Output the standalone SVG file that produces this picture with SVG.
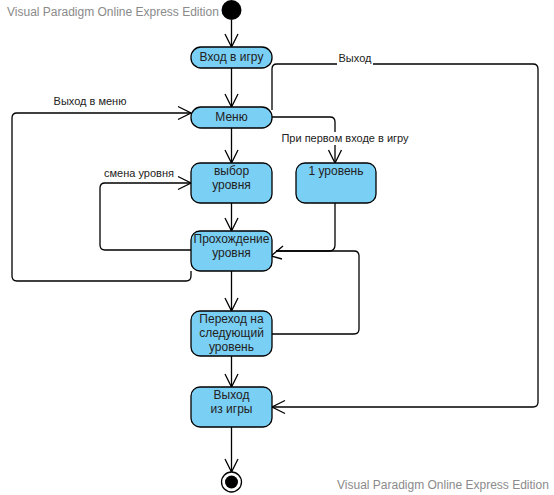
<svg xmlns="http://www.w3.org/2000/svg" width="554" height="495" viewBox="0 0 554 495">
<defs>
<style>
.box{fill:#7ACFF5;stroke:#000;stroke-width:1.3}
.t{font-family:"Liberation Sans",Arial,sans-serif;font-size:12px;fill:#222;text-anchor:middle}
.lbl{font-family:"Liberation Sans",Arial,sans-serif;font-size:11px;fill:#222;text-anchor:middle}
.wm{font-family:"Liberation Sans",Arial,sans-serif;font-size:12px;fill:#8a8a8a}
.c{fill:none;stroke:#000;stroke-width:1.3}
.ah{fill:none;stroke:#000;stroke-width:1.3}
</style>
<marker id="arr" markerUnits="userSpaceOnUse" markerWidth="16" markerHeight="16" viewBox="-14 -8 16 16" refX="0" refY="0" orient="auto">
<path d="M-13,-6.5 L0,0 L-13,6.5" fill="none" stroke="#000" stroke-width="1.3"/>
</marker>
</defs>
<rect width="554" height="495" fill="#fff"/>
<text class="wm" x="7" y="16">Visual Paradigm Online Express Edition</text>
<text class="wm" x="337" y="489">Visual Paradigm Online Express Edition</text>

<g id="connectors">
<path class="c" d="M231.5,20 L231.5,47" marker-end="url(#arr)"/>
<path class="c" d="M231.5,68 L231.5,107" marker-end="url(#arr)"/>
<path class="c" d="M231.5,128 L231.5,163" marker-end="url(#arr)"/>
<path class="c" d="M231.5,203 L231.5,231" marker-end="url(#arr)"/>
<path class="c" d="M231.5,271 L231.5,311" marker-end="url(#arr)"/>
<path class="c" d="M231.5,356 L231.5,387" marker-end="url(#arr)"/>
<path class="c" d="M231.5,427 L231.5,472" marker-end="url(#arr)"/>
<path class="c" d="M272,117 L330,117 Q335,117 335,122 L335,163" marker-end="url(#arr)"/>
<path class="c" d="M191,250 L105,250 Q100,250 100,245 L100,188 Q100,183 105,183 L191,183" marker-end="url(#arr)"/>
<path class="c" d="M191,271 L191,276 Q191,281 186,281 L17,281 Q12,281 12,276 L12,118 Q12,113 17,113 L191,113" marker-end="url(#arr)"/>
<path class="c" d="M272,110 L272,69 Q272,64 277,64 L533,64 Q538,64 538,69 L538,402 Q538,407 533,407 L272,407" marker-end="url(#arr)"/>
<path class="c" d="M335,203 L335,245 Q335,251 329,251 L276,251"/>
<path class="c" d="M272,334 L354,334 Q359,334 359,329 L359,256 Q359,251 354,251 L276,251"/>
<path class="ah" d="M283,246 L271,256 L282,259"/>
<path class="ah" d="M265,248 L271,260"/>
<rect x="337" y="53" width="36" height="12" fill="#fff"/>
<text class="lbl" x="355" y="62">Выход</text>
<rect x="282" y="132" width="126" height="13" fill="#fff"/>
<text class="lbl" x="345" y="142">При первом входе в игру</text>
<text class="lbl" x="90" y="105">Выход в меню</text>
<text class="lbl" x="139" y="177">смена уровня</text>
</g>

<g id="start"><circle cx="231.5" cy="10" r="10" fill="#000"/></g>
<g id="vhod"><rect class="box" x="191" y="47" width="81" height="21" rx="10"/><text class="t" x="231.5" y="61">Вход в игру</text></g>
<g id="menu"><rect class="box" x="191" y="107" width="81" height="21" rx="10"/><text class="t" x="231.5" y="121">Меню</text></g>
<g id="vybor"><rect class="box" x="191" y="163" width="81" height="40" rx="9"/><text class="t" x="231.5" y="175">выбор</text><text class="t" x="231.5" y="189">уровня</text></g>
<g id="level1"><rect class="box" x="296" y="163" width="80" height="40" rx="9"/><text class="t" x="336" y="175">1 уровень</text></g>
<g id="prohozhdenie"><rect class="box" x="191" y="231" width="81" height="40" rx="9"/><text class="t" x="231.5" y="243">Прохождение</text><text class="t" x="231.5" y="257">уровня</text></g>
<g id="perehod"><rect class="box" x="191" y="311" width="81" height="45" rx="9"/><text class="t" x="231.5" y="323">Переход на</text><text class="t" x="231.5" y="337">следующий</text><text class="t" x="231.5" y="351">уровень</text></g>
<g id="vyhod"><rect class="box" x="191" y="387" width="81" height="40" rx="9"/><text class="t" x="231.5" y="399">Выход</text><text class="t" x="231.5" y="413">из игры</text></g>
<g id="end"><circle cx="231.5" cy="482" r="10" fill="#fff" stroke="#000" stroke-width="1.3"/><circle cx="231.5" cy="482" r="6.5" fill="#000"/></g>
</svg>
